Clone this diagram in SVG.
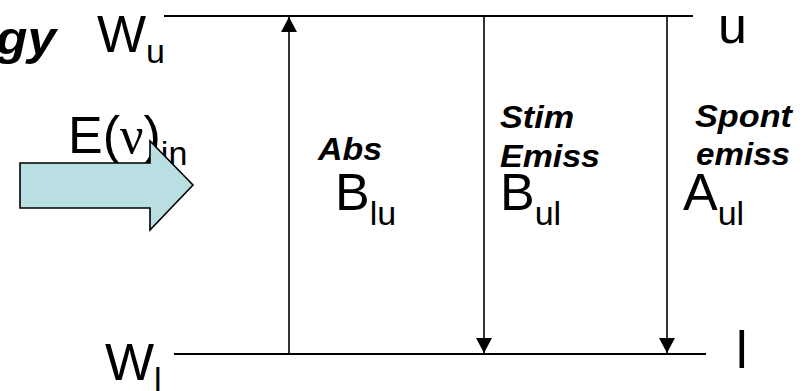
<svg xmlns="http://www.w3.org/2000/svg" width="810" height="391" viewBox="0 0 810 391">
<style>
.t{font-family:"Liberation Sans",Arial,sans-serif;font-size:52px;fill:#000}
.s{font-size:34px}
.bi{font-family:"Liberation Sans",Arial,sans-serif;font-size:32px;font-weight:bold;font-style:italic;fill:#000}
.big{font-size:46px}
.lvl{stroke:#000;stroke-width:2;fill:none}
.tr{stroke:#000;stroke-width:1.6;fill:none}
</style>
<defs>
<marker id="ah" markerUnits="userSpaceOnUse" markerWidth="16" markerHeight="16" viewBox="0 0 16 16" refX="15" refY="8" orient="auto">
<path d="M0,0 L15,8 L0,16 Z" fill="#000"/>
</marker>
</defs>
<rect width="810" height="391" fill="#fff"/>
<g id="title"><text class="bi big" x="-4" y="54" textLength="60" lengthAdjust="spacingAndGlyphs">gy</text></g>
<g id="level-u">
<line class="lvl" x1="164" y1="16" x2="693" y2="16"/>
<text class="t" x="97" y="52">W<tspan class="s" dy="11">u</tspan></text>
<text class="t" x="718" y="43">u</text>
</g>
<g id="level-l">
<line class="lvl" x1="174" y1="354" x2="706" y2="354"/>
<text class="t" x="105" y="380">W<tspan class="s" dy="11">l</tspan></text>
<text class="t" x="736" y="368">l</text>
</g>
<g id="incident">
<text class="t" x="68" y="153">E(<tspan font-family="'Liberation Serif',serif">ν</tspan>)<tspan class="s" dy="12">in</tspan></text>
<path d="M20,163 L150,163 L150,141 L193,185 L150,230 L150,208 L20,208 Z" fill="#B9DFE3" stroke="#000" stroke-width="1.6"/>
</g>
<g id="connectors">
<line class="tr" x1="289" y1="354" x2="289" y2="17" marker-end="url(#ah)"/>
<line class="tr" x1="484" y1="16" x2="484" y2="353" marker-end="url(#ah)"/>
<line class="tr" x1="667" y1="16" x2="667" y2="353" marker-end="url(#ah)"/>
</g>
<g id="absorption">
<text class="bi" x="318" y="160" textLength="64" lengthAdjust="spacingAndGlyphs">Abs</text>
<text class="t" x="335" y="210">B<tspan class="s" dy="15">lu</tspan></text>
</g>
<g id="stimulated">
<text class="bi" x="500" y="128" textLength="74" lengthAdjust="spacingAndGlyphs">Stim</text>
<text class="bi" x="500" y="167" textLength="100" lengthAdjust="spacingAndGlyphs">Emiss</text>
<text class="t" x="500" y="210">B<tspan class="s" dy="15">ul</tspan></text>
</g>
<g id="spontaneous">
<text class="bi" x="695" y="127" textLength="97" lengthAdjust="spacingAndGlyphs">Spont</text>
<text class="bi" x="696" y="165" textLength="94" lengthAdjust="spacingAndGlyphs">emiss</text>
<text class="t" x="683" y="210">A<tspan class="s" dy="15">ul</tspan></text>
</g>
</svg>
